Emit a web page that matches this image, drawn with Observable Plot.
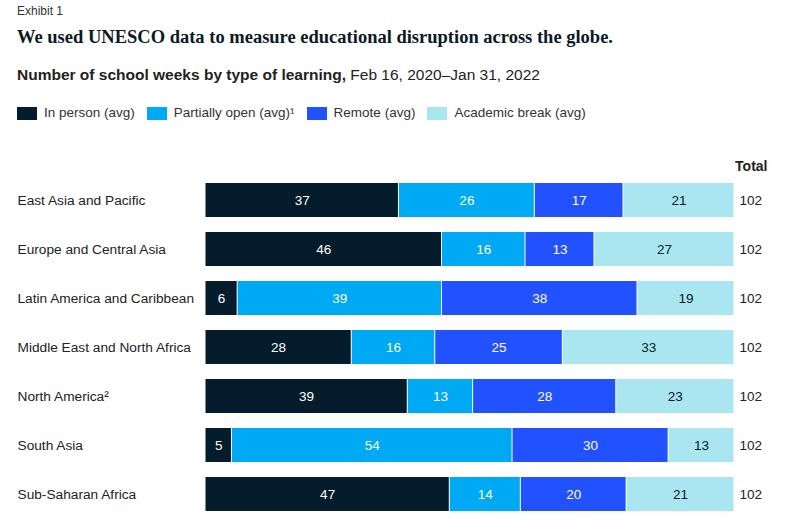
<!DOCTYPE html>
<html>
<head>
<meta charset="utf-8">
<script src="https://cdn.jsdelivr.net/npm/d3@7"></script>
<script src="https://cdn.jsdelivr.net/npm/@observablehq/plot@0.6"></script>
<style>
  body { margin: 0; background: #fff; width: 792px; height: 530px; position: relative; overflow: hidden; font-family: "Liberation Sans", Arial, sans-serif; color: #222; }
  .abs { position: absolute; left: 17px; white-space: nowrap; }
  #exhibit { top: 2px; font-size: 12px; line-height: 18px; color: #333; }
  #title { top: 24px; font-family: "Liberation Serif", serif; font-weight: bold; font-size: 18.5px; line-height: 26px; color: #0b1a26; }
  #subtitle { top: 65px; font-size: 15.5px; line-height: 20px; color: #222; }
  #subtitle b { font-weight: bold; }
  #legend { top: 104px; font-size: 13.5px; line-height: 18px; display: flex; align-items: center; color: #333; }
  .sw { display: inline-block; width: 20px; height: 13px; margin-right: 7px; }
  .item { display: flex; align-items: center; margin-right: 12px; }
  #chart { position: absolute; left: 0; top: 130px; }
</style>
</head>
<body>
<div id="exhibit" class="abs">Exhibit 1</div>
<div id="title" class="abs">We used UNESCO data to measure educational disruption across the globe.</div>
<div id="subtitle" class="abs"><b>Number of school weeks by type of learning,</b> Feb 16, 2020–Jan 31, 2022</div>
<div id="legend" class="abs"></div>
<div id="chart"></div>
<script>
const regions = ["East Asia and Pacific", "Europe and Central Asia", "Latin America and Caribbean", "Middle East and North Africa", "North America²", "South Asia", "Sub-Saharan Africa"];
const types = ["In person (avg)", "Partially open (avg)¹", "Remote (avg)", "Academic break (avg)"];
const colors = ["#051c2c", "#00a9f4", "#2251ff", "#aae6f0"];
const labelColors = ["#ffffff", "#ffffff", "#ffffff", "#051c2c"];
const inPerson = [37.3, 45.6, 6.2, 28.2, 39.0, 5.1, 47.1];
const partiallyOpen = [26.2, 16.1, 39.4, 16.1, 12.6, 54.1, 13.7];
const remote = [17.1, 13.3, 37.7, 24.6, 27.6, 30.1, 20.4];
const academicBreak = [21.4, 27.0, 18.7, 33.1, 22.8, 12.7, 20.8];
const totals = [102, 102, 102, 102, 102, 102, 102];
const series = [inPerson, partiallyOpen, remote, academicBreak];

const data = [];
regions.forEach((r, i) => {
  series.forEach((s, j) => {
    data.push({region: r, type: types[j], value: s[i], label: String(Math.round(s[i])), lc: labelColors[j]});
  });
});
const totalData = regions.map((r, i) => ({region: r, total: totals[i]}));

// legend
const legend = document.getElementById("legend");
types.forEach((t, j) => {
  const it = document.createElement("span");
  it.className = "item";
  it.innerHTML = `<span class="sw" style="background:${colors[j]}"></span><span>${t}</span>`;
  legend.appendChild(it);
});

const chart = Plot.plot({
  width: 792,
  height: 400,
  marginLeft: 205,
  marginRight: 58,
  marginTop: 38,
  marginBottom: 4,
  style: {fontFamily: "Liberation Sans, Arial, sans-serif", fontSize: "13.5px", color: "#222"},
  x: {domain: [0, 102], axis: null},
  y: {domain: regions, padding: 0.306, axis: null},
  color: {domain: types, range: colors},
  marks: [
    Plot.barX(data, Plot.stackX({x: "value", y: "region", fill: "type", order: types, insetLeft: 0.5, insetRight: 0.5})),
    Plot.text(data, Plot.stackX({x: "value", y: "region", text: "label", order: types, fill: "lc", fontSize: 13.5})),
    Plot.text(regions, {y: d => d, text: d => d, frameAnchor: "left", dx: -188, textAnchor: "start", fill: "#222", fontSize: 13.7}),
    Plot.text(totalData, {x: 102, y: "region", text: d => String(d.total), textAnchor: "start", dx: 5, fill: "#222", fontSize: 13.5}),
    Plot.text(["Total"], {x: 102, frameAnchor: "top", text: d => d, textAnchor: "end", dx: 33, dy: -7, fontWeight: "bold", fill: "#222", fontSize: 14})
  ]
});
document.getElementById("chart").appendChild(chart);
</script>
</body>
</html>
